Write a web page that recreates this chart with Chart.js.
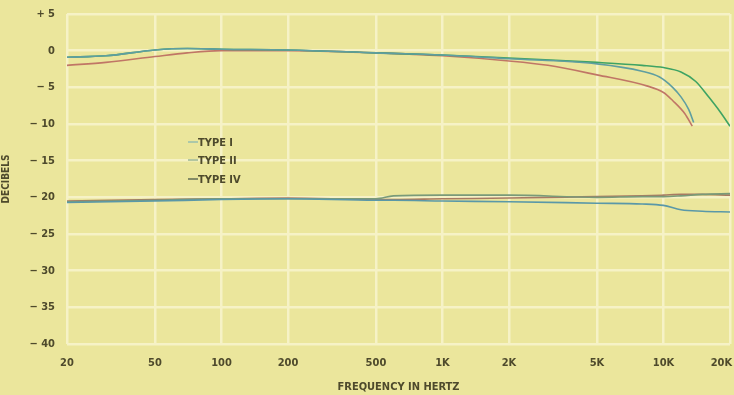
<!DOCTYPE html>
<html>
<head>
<meta charset="utf-8">
<script src="https://cdn.jsdelivr.net/npm/chart.js@4"></script>
<style>
  html, body { margin: 0; padding: 0; background: #ebe69c; }
  #wrap { width: 734px; height: 395px; }
</style>
</head>
<body>
<div id="wrap"><canvas id="grafico" width="734" height="395"></canvas></div>
<script>
// frequency ticks (Hz) and labels
var freqTicks = [20, 50, 100, 200, 500, 1000, 2000, 5000, 10000, 20000];
var freqLabels = ['20', '50', '100', '200', '500', '1K', '2K', '5K', '10K', '20K'];
var dbTicks = [5, 0, -5, -10, -15, -20, -25, -30, -35, -40];
var dbLabels = ['+ 5', '0', '\u2212 5', '\u2212 10', '\u2212 15', '\u2212 20', '\u2212 25', '\u2212 30', '\u2212 35', '\u2212 40'];

// 0 dB level curves
var freqType1Hi = [20, 30, 50, 70, 100, 200, 500, 1000, 2000, 5000, 8000, 9600, 11000, 12000, 13000, 13700];
var type1Hi = [-0.9, -0.7, 0.1, 0.3, 0.2, 0.1, -0.3, -0.6, -1.1, -1.8, -2.8, -3.6, -5.0, -6.3, -8.0, -9.8];
var freqType2Hi = [20, 30, 50, 70, 100, 200, 500, 1000, 2000, 5000, 8000, 10000, 12000, 14000, 16000, 18000, 20000];
var type2Hi = [-0.9, -0.7, 0.1, 0.3, 0.2, 0.1, -0.3, -0.6, -1.0, -1.6, -2.0, -2.3, -2.9, -4.2, -6.3, -8.3, -10.3];
var freqType4Hi = [20, 30, 50, 70, 100, 200, 500, 1000, 2000, 3000, 5000, 8400, 10000, 11000, 12500, 13500];
var type4Hi = [-2.0, -1.6, -0.8, -0.3, 0.0, 0.0, -0.3, -0.7, -1.4, -2.0, -3.3, -4.8, -5.7, -6.8, -8.6, -10.3];

// -20 dB level curves
var freqLo = [20, 50, 100, 200, 500, 600, 1000, 2000, 5000, 8000, 10000, 12000, 15000, 20000];
var type1Lo = [-20.7, -20.5, -20.3, -20.2, -20.4, -20.4, -20.5, -20.6, -20.8, -20.9, -21.1, -21.7, -21.9, -22.0];
var type2Lo = [-20.6, -20.4, -20.2, -20.2, -20.2, -19.8, -19.7, -19.7, -20.0, -19.9, -19.9, -19.8, -19.6, -19.5];
var type4Lo = [-20.5, -20.3, -20.2, -20.1, -20.3, -20.3, -20.2, -20.1, -19.9, -19.8, -19.7, -19.6, -19.6, -19.7];

var corTipo1 = '#5f9ea0';
var corTipo2 = '#3ea363';
var corTipo4 = '#c07666';
var corTexto = '#4e4a2c';
var fonte = "'Liberation Sans Narrow', 'DejaVu Sans Condensed', sans-serif";

function pontos(xs, ys) {
    return xs.map(function (x, i) { return { x: x, y: ys[i] }; });
}

function serie(rotulo, xs, ys, cor) {
    return {
        label: rotulo,
        data: pontos(xs, ys),
        borderColor: cor,
        borderWidth: 1.6,
        pointRadius: 0,
        cubicInterpolationMode: 'monotone',
        fill: false
    };
}

// fundo amarelo
var fundo = {
    id: 'fundo',
    beforeDraw: function (chart) {
        var c = chart.ctx;
        c.save();
        c.fillStyle = '#ebe69c';
        c.fillRect(0, 0, chart.width, chart.height);
        c.restore();
    }
};

// legenda dentro da área do gráfico
var legenda = {
    id: 'legenda',
    afterDraw: function (chart) {
        var c = chart.ctx;
        var itens = [['TYPE I', '#8ab8b0', 143], ['TYPE II', '#8fae8c', 161], ['TYPE IV', '#4d5a48', 180]];
        c.save();
        c.font = 'bold 11px ' + fonte;
        c.textBaseline = 'middle';
        itens.forEach(function (it) {
            c.strokeStyle = it[1];
            c.lineWidth = 1.3;
            c.beginPath();
            c.moveTo(188, it[2] - 1);
            c.lineTo(198, it[2] - 1);
            c.stroke();
            c.fillStyle = corTexto;
            c.fillText(it[0], 198, it[2]);
        });
        c.restore();
    }
};

var ctx = document.getElementById('grafico').getContext('2d');
var meuGrafico = new Chart(ctx, {
    type: 'line',
    data: {
        datasets: [
            serie('TYPE I', freqType1Hi, type1Hi, corTipo1),
            serie('TYPE II', freqType2Hi, type2Hi, corTipo2),
            serie('TYPE IV', freqType4Hi, type4Hi, corTipo4),
            serie('TYPE I', freqLo, type1Lo, '#5a98a8'),
            serie('TYPE II', freqLo, type2Lo, '#7a9a78'),
            serie('TYPE IV', freqLo, type4Lo, '#a87a62')
        ]
    },
    options: {
        responsive: false,
        animation: false,
        layout: { padding: { top: 14, right: 4, left: 0, bottom: 0 } },
        plugins: {
            legend: { display: false },
            tooltip: { enabled: false }
        },
        scales: {
            x: {
                type: 'logarithmic',
                min: 20,
                max: 20000,
                afterBuildTicks: function (scale) {
                    scale.ticks = freqTicks.map(function (v) { return { value: v }; });
                },
                afterFit: function (scale) {
                    scale.height = 51;
                    scale.paddingLeft = 0;
                    scale.paddingRight = 0;
                },
                grid: { color: '#f6f2c6', lineWidth: 2.5, drawTicks: false },
                border: { display: false },
                ticks: {
                    autoSkip: false,
                    maxRotation: 0,
                    padding: 13,
                    color: corTexto,
                    font: { family: fonte, size: 11, weight: 'bold' },
                    callback: function (v) {
                        var i = freqTicks.indexOf(v);
                        if (i < 0) return '';
                        // último rótulo deslocado para a esquerda para caber no canvas
                        if (i === freqTicks.length - 1) return freqLabels[i] + '\u00a0\u00a0\u00a0\u00a0\u00a0';
                        return freqLabels[i];
                    }
                },
                title: {
                    display: true,
                    text: 'FREQUENCY IN HERTZ',
                    color: corTexto,
                    font: { family: fonte, size: 11, weight: 'bold' },
                    padding: { top: 0, bottom: 1 }
                }
            },
            y: {
                min: -40,
                max: 5,
                afterBuildTicks: function (scale) {
                    scale.ticks = dbTicks.map(function (v) { return { value: v }; });
                },
                afterFit: function (scale) {
                    scale.width = 67;
                    scale.paddingTop = 0;
                    scale.paddingBottom = 0;
                },
                grid: { color: '#f6f2c6', lineWidth: 2.5, drawTicks: false },
                border: { display: false },
                ticks: {
                    padding: 12,
                    color: corTexto,
                    font: { family: fonte, size: 11, weight: 'bold' },
                    callback: function (v) {
                        var i = dbTicks.indexOf(v);
                        return i >= 0 ? dbLabels[i] : '';
                    }
                },
                title: {
                    display: true,
                    text: 'DECIBELS',
                    color: corTexto,
                    font: { family: fonte, size: 10, weight: 'bold' },
                    padding: { top: 0, bottom: 4 }
                }
            }
        }
    },
    plugins: [fundo, legenda]
});
</script>
</body>
</html>
